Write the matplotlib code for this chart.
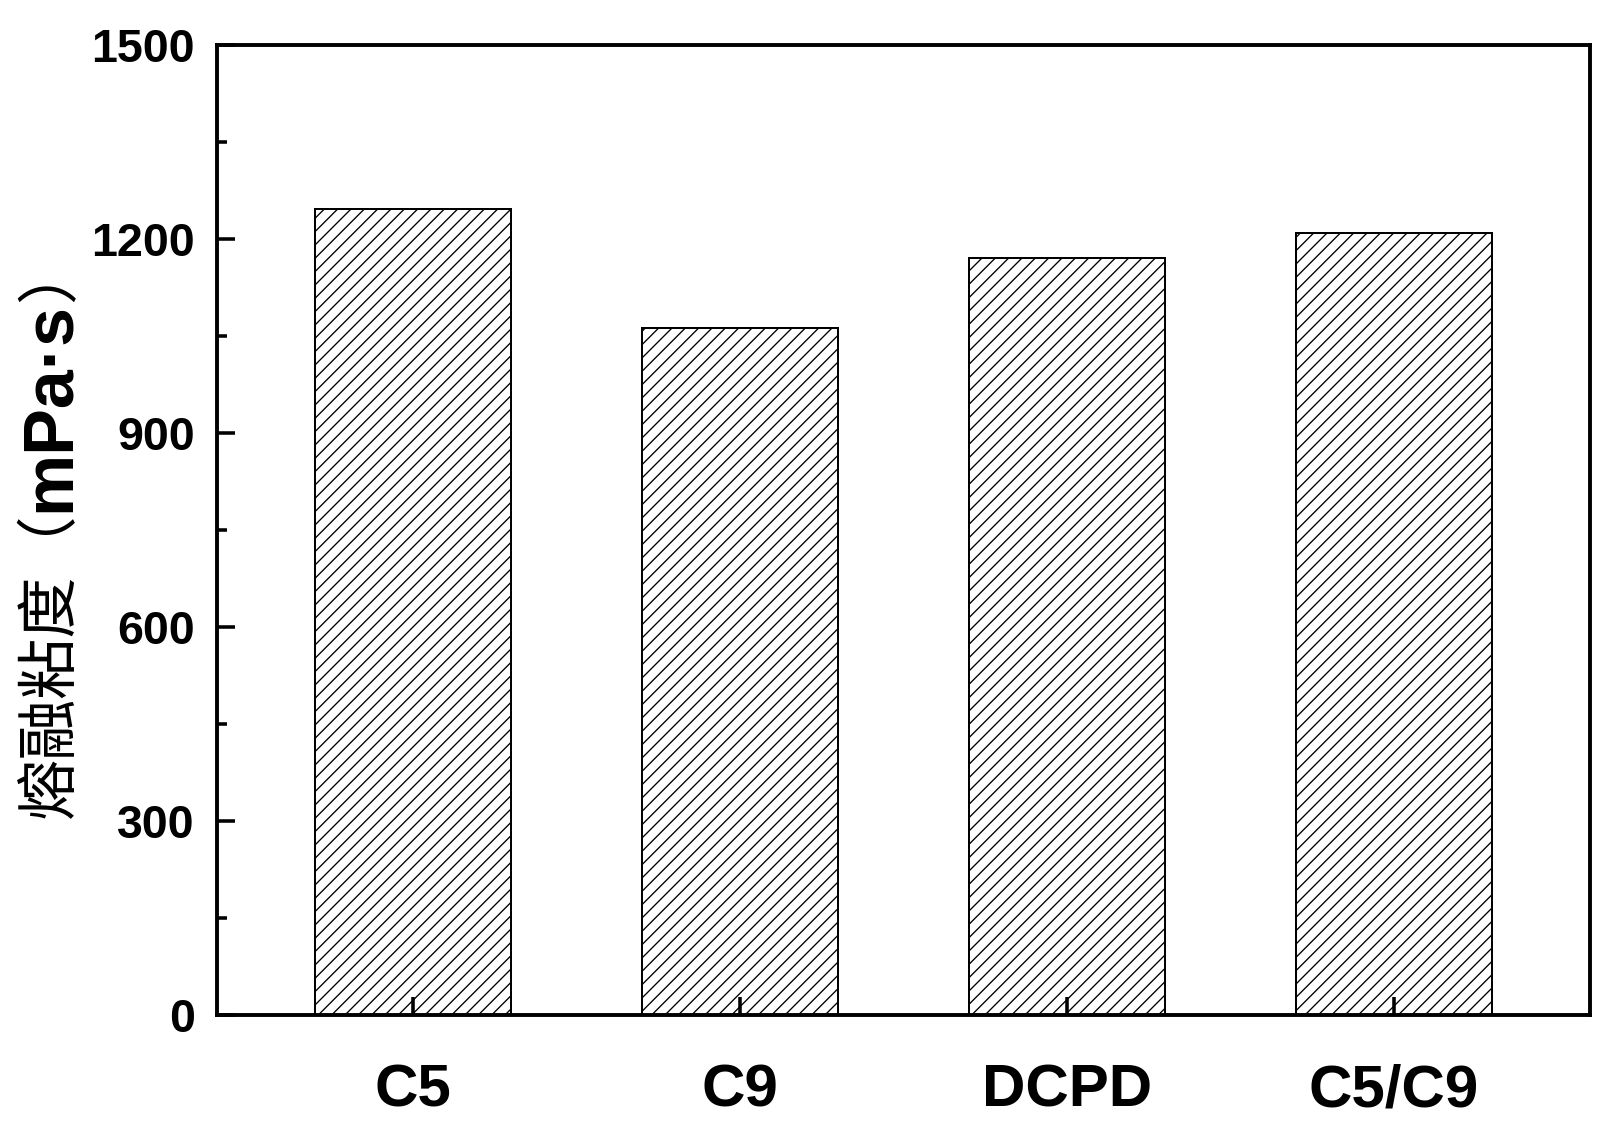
import matplotlib
matplotlib.use("Agg")
import matplotlib.pyplot as plt
from matplotlib.ticker import MultipleLocator

# melt viscosity of the resins
resins = ["C5", "C9", "DCPD", "C5/C9"]
viscosity = [1246, 1063, 1170, 1210]

plt.rcParams['hatch.linewidth'] = 1.2

fig = plt.figure(figsize=(20, 14.125), dpi=80)
ax = fig.add_axes([0.1356, 0.1018, 0.8582, 0.8584])

x = range(1, len(resins) + 1)
ax.bar(x, viscosity, width=0.6, color="white", edgecolor="black",
       linewidth=1.8, hatch="//")

ax.set_xlim(0.4, 4.6)
ax.set_ylim(0, 1500)
ax.set_xticks(list(x))
ax.set_xticklabels(resins)
ax.yaxis.set_major_locator(MultipleLocator(300))
ax.yaxis.set_minor_locator(MultipleLocator(150))

for s in ax.spines.values():
    s.set_linewidth(3.5)

ax.tick_params(axis="both", which="both", direction="in", top=False, right=False)
ax.tick_params(axis="y", which="major", length=16, width=3.2, pad=20)
ax.tick_params(axis="y", which="minor", length=9, width=3.2)
ax.tick_params(axis="x", which="major", length=16, width=3.2, pad=44)

for lab in ax.get_yticklabels():
    lab.set_fontfamily("Liberation Sans")
    lab.set_fontweight("bold")
    lab.set_fontsize(42)
for lab in ax.get_xticklabels():
    lab.set_fontfamily("Liberation Sans")
    lab.set_fontweight("bold")
    lab.set_fontsize(54)

# y label: Chinese part regular, unit bold, stacked bottom to top
renderer = fig.canvas.get_renderer()
label_x = 51 / 1600
y_pos = 1 - 818 / 1130
parts = [("熔融粘度（", "Noto Sans CJK SC", "normal", 55),
         ("mPa·s", "Liberation Sans", "bold", 63),
         ("）", "Noto Sans CJK SC", "normal", 55)]
for txt, fam, wt, size in parts:
    t = fig.text(label_x, y_pos, txt, rotation=90, ha="center", va="bottom",
                 family=[fam, "DejaVu Sans"], fontweight=wt, fontsize=size)
    bb = t.get_window_extent(renderer)
    y_pos = bb.y1 / fig.bbox.height

fig.savefig("out.png", dpi=80)
